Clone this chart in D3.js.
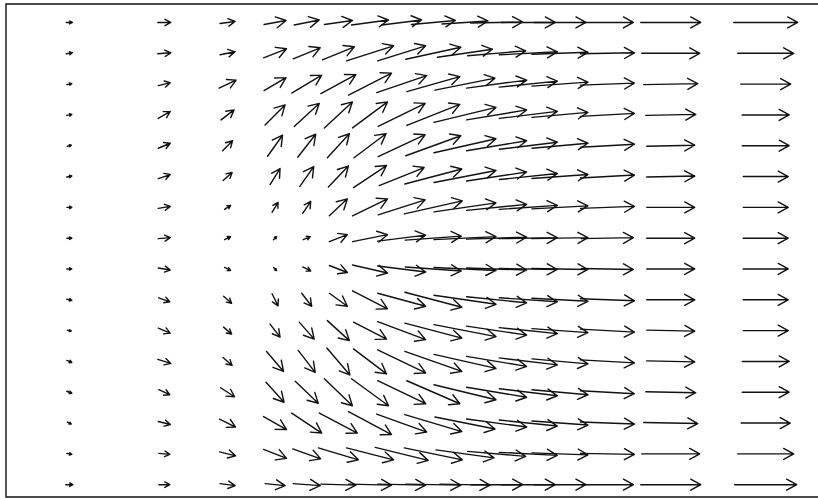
<!DOCTYPE html>
<html>
<head>
<meta charset="utf-8">
<script src="https://cdn.jsdelivr.net/npm/d3@7"></script>
<style>
  html, body { margin: 0; padding: 0; background: #fff; overflow: hidden; }
  svg { display: block; }
</style>
</head>
<body>
<div id="chart"></div>
<script>
// grid of the vector field (column positions are not evenly spaced)
var xGrid = [-11, -8, -6, -4.5, -3.5, -2.5, -1.5, -0.5, 0.5, 1.5, 2.5, 3.5, 4.5, 6, 8, 11];
var yGrid = [7.5, 6.5, 5.5, 4.5, 3.5, 2.5, 1.5, 0.5, -0.5, -1.5, -2.5, -3.5, -4.5, -5.5, -6.5, -7.5];

// horizontal component, one row per yGrid value (top to bottom)
var uRows = [
  [0.6, 1.3, 1.5, 2.2, 2.5, 2.8, 3.7, 4.0, 4.4, 4.6, 5.2, 5.4, 5.2, 5.2, 6.0, 6.4],
  [0.6, 1.3, 1.5, 2.3, 2.7, 3.2, 4.7, 4.8, 5.5, 5.5, 5.8, 5.8, 5.6, 5.4, 5.8, 5.6],
  [0.5, 1.2, 1.7, 2.2, 3.0, 3.5, 4.3, 5.0, 5.3, 6.0, 6.0, 5.8, 5.6, 5.4, 5.4, 5.0],
  [0.5, 1.2, 1.3, 2.0, 2.5, 2.8, 3.5, 4.7, 5.3, 6.2, 6.0, 5.8, 5.6, 5.4, 5.0, 4.7],
  [0.4, 1.2, 1.0, 1.5, 1.8, 2.2, 3.2, 4.7, 5.5, 6.2, 6.0, 5.8, 5.6, 5.4, 4.8, 4.7],
  [0.5, 1.2, 0.9, 1.0, 1.4, 2.0, 3.3, 4.5, 5.7, 6.2, 6.0, 5.8, 5.6, 5.4, 4.8, 4.5],
  [0.5, 1.2, 0.6, 0.6, 0.8, 1.8, 3.5, 4.7, 5.8, 6.2, 6.0, 5.8, 5.6, 5.4, 4.8, 4.5],
  [0.5, 1.2, 0.6, 0.3, 0.7, 1.8, 3.5, 4.8, 5.6, 6.2, 6.0, 5.8, 5.6, 5.2, 4.8, 4.5],
  [0.5, 1.2, 0.6, 0.3, 0.8, 1.8, 3.5, 4.8, 5.6, 6.2, 6.0, 5.8, 5.6, 5.2, 4.8, 4.5],
  [0.5, 1.1, 0.8, 0.6, 1.0, 1.8, 3.5, 4.8, 5.7, 6.2, 6.0, 5.8, 5.6, 5.4, 4.8, 4.5],
  [0.4, 1.2, 0.8, 1.0, 1.5, 2.2, 3.3, 4.8, 5.7, 6.2, 6.0, 5.8, 5.6, 5.4, 4.8, 4.5],
  [0.5, 1.3, 0.9, 1.7, 1.7, 2.3, 3.3, 4.8, 5.7, 6.2, 6.0, 5.8, 5.6, 5.4, 4.8, 4.7],
  [0.5, 1.1, 1.4, 1.8, 2.3, 2.8, 3.7, 4.8, 5.3, 6.2, 6.0, 5.8, 5.6, 5.4, 5.0, 4.7],
  [0.4, 1.2, 1.6, 2.3, 3.0, 3.8, 4.3, 5.0, 5.7, 6.0, 6.0, 5.8, 5.6, 5.4, 5.4, 4.9],
  [0.5, 1.1, 1.6, 2.3, 2.8, 4.0, 4.7, 5.3, 5.8, 5.8, 5.8, 5.8, 5.6, 5.4, 5.8, 5.6],
  [0.7, 1.1, 1.5, 2.0, 2.7, 3.5, 4.3, 4.8, 5.5, 5.0, 5.2, 5.4, 5.2, 5.2, 6.0, 6.2]
];

// vertical component (positive = up), same layout
var vRows = [
  [0.0, 0.0, 0.2, 0.4, 0.5, 0.4, 0.5, 0.5, 0.4, 0.3, 0.1, 0.0, 0.0, 0.0, 0.0, 0.0],
  [0.1, 0.1, 0.3, 0.9, 1.1, 1.3, 1.5, 1.5, 1.2, 0.8, 0.5, 0.3, 0.2, 0.1, 0.0, 0.0],
  [0.1, 0.3, 0.8, 1.3, 1.8, 1.9, 2.2, 1.7, 1.5, 1.2, 0.8, 0.6, 0.4, 0.2, 0.1, 0.0],
  [0.1, 0.7, 1.0, 2.0, 2.3, 2.6, 2.6, 2.3, 2.1, 1.5, 1.0, 0.7, 0.5, 0.3, 0.1, 0.0],
  [0.1, 0.5, 1.0, 2.1, 2.3, 2.4, 2.4, 2.2, 2.0, 1.4, 1.0, 0.7, 0.5, 0.3, 0.1, 0.0],
  [0.1, 0.4, 0.8, 1.6, 2.0, 2.1, 2.2, 1.8, 1.5, 1.2, 0.9, 0.6, 0.4, 0.3, 0.1, 0.0],
  [0.0, 0.2, 0.4, 1.0, 1.2, 1.7, 1.7, 1.5, 1.3, 0.9, 0.6, 0.4, 0.3, 0.2, 0.0, 0.0],
  [0.0, 0.1, 0.3, 0.3, 0.3, 0.7, 0.7, 0.6, 0.4, 0.3, 0.2, 0.1, 0.1, 0.1, 0.0, 0.0],
  [0.0, -0.2, -0.3, -0.3, -0.4, -0.7, -0.8, -0.6, -0.4, -0.3, -0.2, -0.1, -0.1, -0.1, 0.0, 0.0],
  [-0.1, -0.4, -0.7, -1.2, -1.3, -1.3, -1.8, -1.3, -1.5, -0.9, -0.6, -0.4, -0.3, -0.2, 0.0, 0.0],
  [-0.1, -0.5, -0.7, -1.3, -1.7, -2.0, -1.7, -1.8, -1.5, -1.2, -0.9, -0.6, -0.4, -0.3, -0.1, 0.0],
  [-0.2, -0.4, -0.8, -2.0, -2.2, -2.7, -2.5, -2.3, -2.0, -1.4, -1.0, -0.7, -0.5, -0.3, -0.1, 0.0],
  [-0.2, -0.5, -0.9, -2.0, -2.2, -2.7, -2.7, -2.3, -2.3, -1.5, -1.0, -0.7, -0.5, -0.3, -0.1, 0.0],
  [-0.2, -0.3, -0.8, -1.3, -2.0, -2.0, -2.3, -1.8, -1.7, -1.2, -0.8, -0.6, -0.4, -0.2, -0.1, 0.0],
  [-0.1, -0.1, -0.4, -0.9, -1.0, -1.2, -1.2, -1.3, -1.2, -0.8, -0.5, -0.3, -0.2, -0.1, 0.0, 0.0],
  [0.0, 0.0, -0.2, -0.2, -0.2, -0.1, -0.1, -0.1, -0.1, -0.1, 0.0, 0.0, 0.0, 0.0, 0.0, 0.0]
];

var width = 818, height = 498;

var svg = d3.select("#chart").append("svg")
   .attr("width", width)
   .attr("height", height);

var xScale = d3.scaleLinear().domain([-13, 13]).range([6, 829]);
var yScale = d3.scaleLinear().domain([8.1, -7.9]).range([4, 497]);
// arrow length in pixels per unit of the field
var lenScale = d3.scaleLinear().domain([0, 1]).range([0, 10]);

// frame: top, left and bottom edges only, open at the right of the picture
var fx0 = xScale(-13), fx1 = width, fy0 = yScale(8.1), fy1 = yScale(-7.9);
svg.append("path")
   .attr("d", "M" + fx1 + "," + fy0 + "L" + fx0 + "," + fy0 + "L" + fx0 + "," + fy1 + "L" + fx1 + "," + fy1)
   .style("fill", "none")
   .style("stroke", "#111")
   .style("stroke-width", 1.4);

// flatten the grid into points
var points = [];
yGrid.forEach(function(yv, i) {
   xGrid.forEach(function(xv, j) {
      points.push({x: xv, y: yv, u: uRows[i][j], v: vRows[i][j]});
   });
});

// arrows pivot on their middle, open heads like a quiver plot
function arrowPath(d) {
   var cx = xScale(d.x), cy = yScale(d.y);
   var dx = lenScale(d.u), dy = -lenScale(d.v);
   var len = Math.sqrt(dx*dx + dy*dy);
   if (len < 0.01) return "";
   var ux = dx/len, uy = dy/len;
   var x0 = cx - dx/2, y0 = cy - dy/2;
   var x1 = cx + dx/2, y1 = cy + dy/2;
   var hl = Math.min(10, len*0.45);
   var hw = hl*0.55;
   var bx = x1 - ux*hl, by = y1 - uy*hl;
   return "M" + x0 + "," + y0 + "L" + x1 + "," + y1 +
      "M" + (bx - uy*hw) + "," + (by + ux*hw) + "L" + x1 + "," + y1 +
      "L" + (bx + uy*hw) + "," + (by - ux*hw);
}

svg.append("g").attr("class", "quiver")
   .selectAll("path").data(points).enter()
   .append("path")
   .attr("d", arrowPath)
   .style("fill", "none")
   .style("stroke", "#111")
   .style("stroke-width", 1.4)
   .style("stroke-linecap", "round")
   .style("stroke-linejoin", "round");
</script>
</body>
</html>
